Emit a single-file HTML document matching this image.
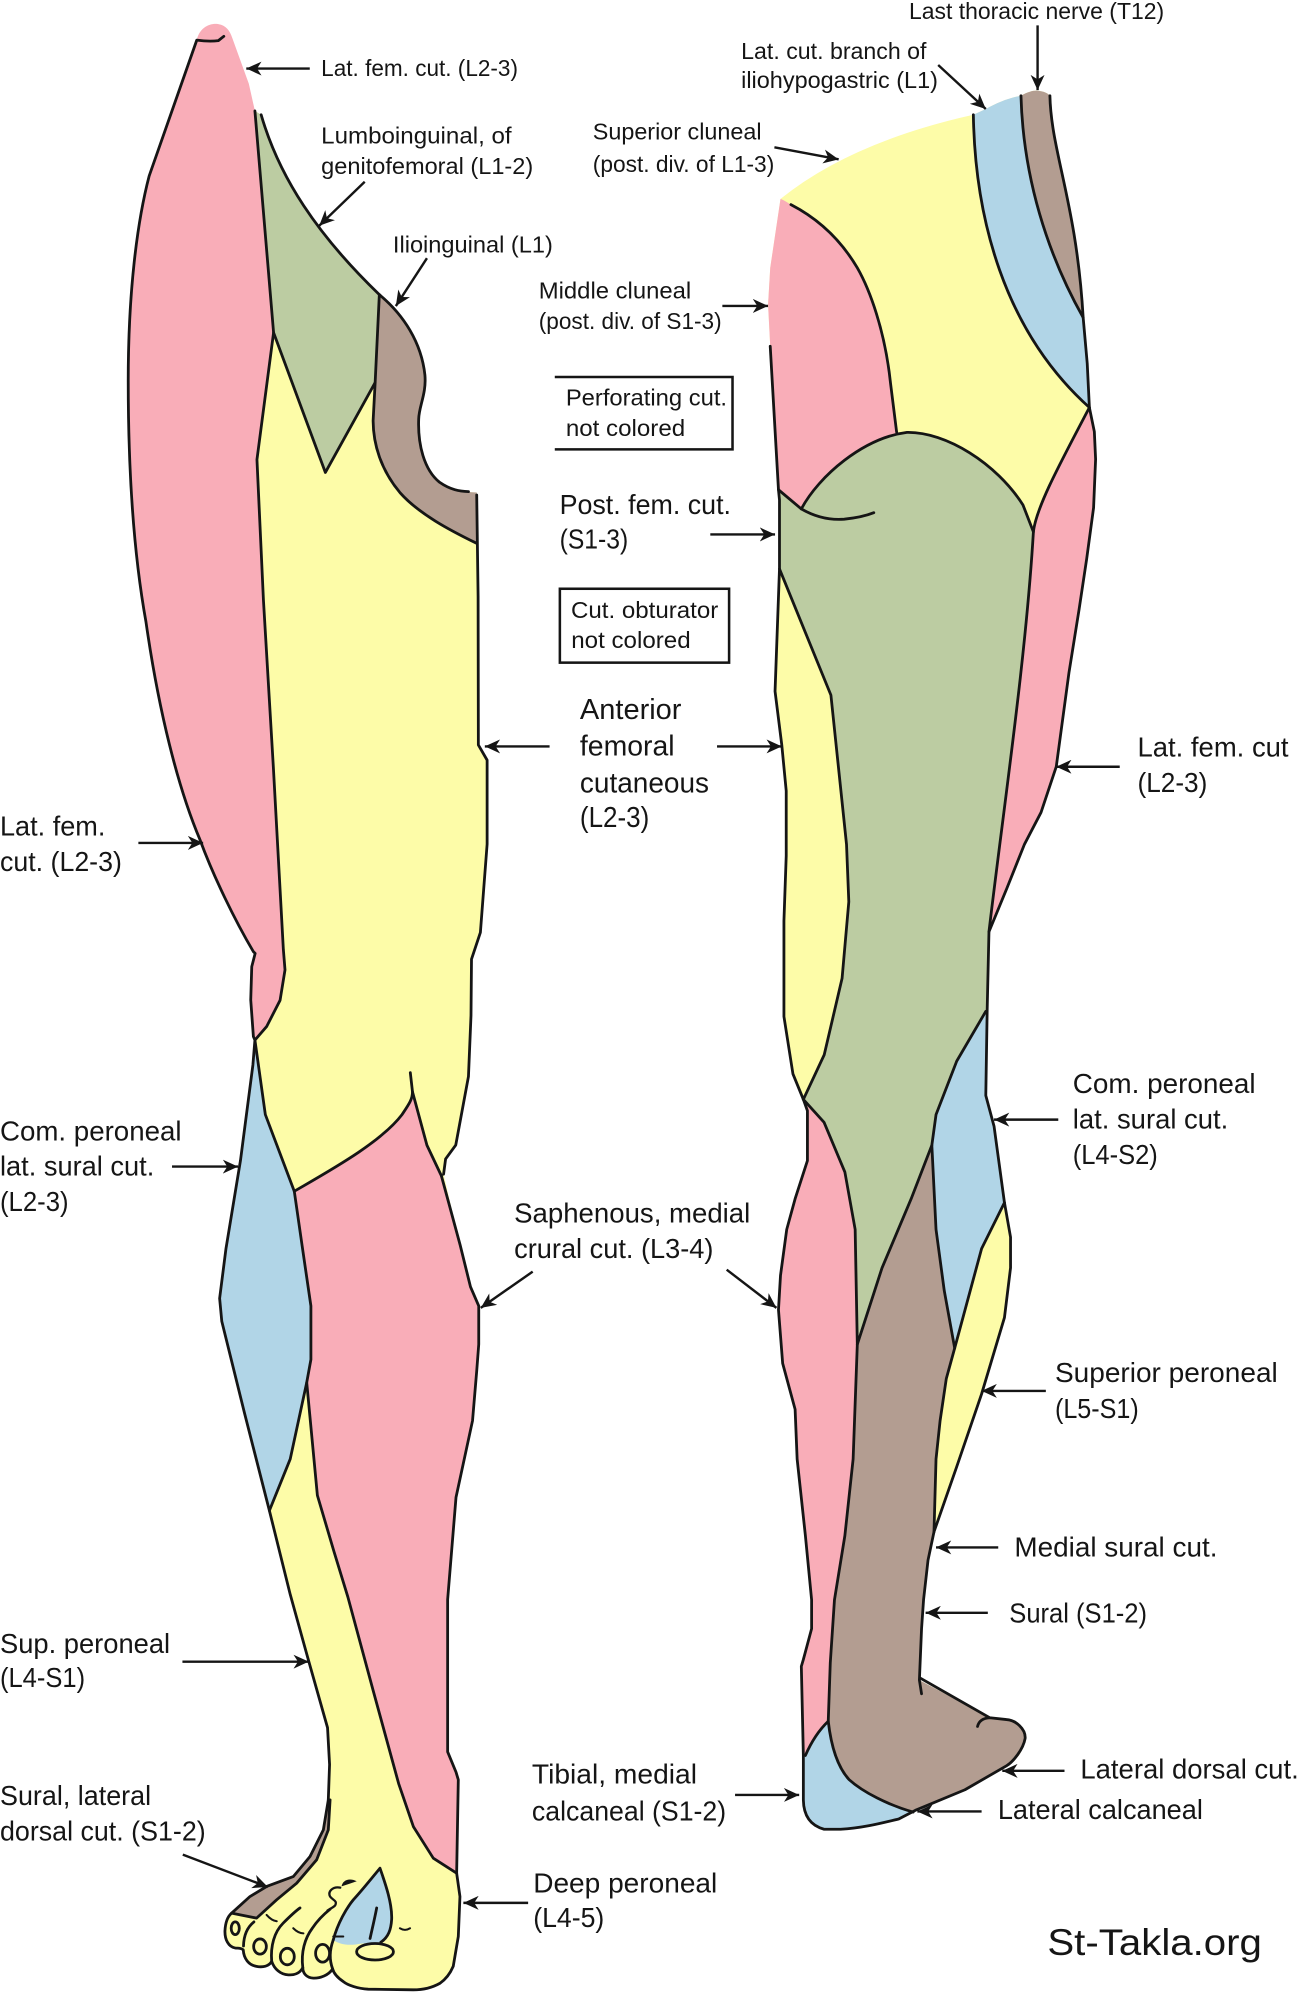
<!DOCTYPE html>
<html><head><meta charset="utf-8"><title>Dermatomes of the leg</title>
<style>
html,body{margin:0;padding:0;background:#fff;}
svg{display:block;}
text{font-family:"Liberation Sans",Arial,sans-serif;fill:#151515;}
</style></head>
<body>
<svg xmlns="http://www.w3.org/2000/svg" width="1300" height="1993" viewBox="0 0 1024 1570" preserveAspectRatio="none">
<defs>
<marker id="ah" markerUnits="userSpaceOnUse" markerWidth="13" markerHeight="11" refX="12" refY="5.5" orient="auto">
<path d="M0,0 L12,5.5 L0,11 L3.5,5.5 Z" fill="#151515"/>
</marker>
</defs>
<rect x="0" y="0" width="1024" height="1570" fill="#fff"/>

<!-- ================= LEFT LEG (anterior) ================= -->
<g stroke="none">
<path fill="#FDFCA8" d="M200.8,87.4 L205.7,90.4 C220,140 250,185 298.8,232.1 C318,248 332,270 334.7,295.4 C336,310 330,320 329.8,330 C329,350 334,370 346.1,379.8 C355,386 365,387.5 375.5,388 L376.6,470 L376.8,586.8 L383.7,598.8 L383.7,665 L378.4,734.5 L371.4,755.6 L371,800 L369,848 L359,902 L351,913 L349.4,925 L362.4,980.6 L370.6,1013.7 L377.1,1028.8 L377.1,1059 L375.5,1080 L372.2,1119.2 L359.2,1179.5 L352.6,1260 L352.6,1380 L359.2,1396 L361,1402 L359.7,1475.6 L362.3,1494 L361,1525.5 L357,1549 C354,1556 350,1560 346.6,1562.3 C340,1566 332,1567.5 325.6,1567.5 L290,1567 C282,1566.5 274,1564 270.4,1561 C266,1558 263,1555 262,1551 C259,1556 252,1558.5 246.8,1558.3 C241,1558 238.5,1554 238.5,1550 C236,1555 231,1556 227.1,1555.7 C221,1555.5 216,1551 214,1545 C212,1549 207,1550 202,1549 C196,1548 192,1543 191.6,1536 C189,1534 187,1535 185,1534.5 C180,1533.5 177,1528 177.2,1521 C177.5,1515 179,1510 182.4,1507.1 L196.9,1494 L210,1486.1 L231,1478.3 L244.2,1462.5 L254.7,1441.5 L258.6,1417.9 L259.6,1390 L258,1361 L243.2,1308.7 L228.6,1256 L212.2,1190 L192.6,1113.2 L174.7,1040.9 L173,1022.8 L178,983.6 L189.4,914.3 L199.2,839 L200.8,819.3 L210,808.7 L220.6,788 L224.5,764 L223.2,748 L215.3,604 L207.5,472.6 L202.4,362 L215.5,262 Z"/>
<path fill="#F9ADB8" d="M155,31.6 C157,22 165,18 172,19 C178,20 181,24 183,30 L196,66 L200.8,87.4 L215.5,262 L202.4,362 L207.5,472.6 L215.3,604 L223.2,748 L224.5,764 L220.6,788 L210,808.7 L200.8,819.3 L199.6,816.6 L197.5,787.7 L198.3,761.5 L201,751 L199.6,749.7 C185,725 168,690 157.6,661.7 C140,620 125,560 115,490 C106,440 101,380 101,300 C101,230 108,175 117.5,138.6 Z"/>
<path fill="#BCCCA2" d="M205.7,90.4 C220,140 250,185 298.8,232.1 L295.5,301.4 L256.3,372.2 L215.5,262 L200.8,87.4 Z"/>
<path fill="#B39D91" d="M298.8,232.1 C318,248 332,270 334.7,295.4 C336,310 330,320 329.8,330 C329,350 334,370 346.1,379.8 C355,386 365,387.5 375.5,388 L375.5,428 C355,418 330,405 315,388 C300,370 294,350 293.9,331.5 L295.5,301.4 Z"/>
<path fill="#B1D5E7" d="M200.8,819.3 L209,878 L231.8,938.4 L238.3,983.6 L244.9,1028.8 L244.9,1071 L241.6,1089.1 L228.6,1149.4 L212.2,1190 L192.6,1113.2 L174.7,1040.9 L173,1022.8 L178,983.6 L189.4,914.3 L199.2,839 Z"/>
<path fill="#F9ADB8" d="M231.8,938.4 C260,922 300,900 316.7,878 C322,870 325,866 324.9,860 L336.3,902.2 L347.7,926.3 L362.4,980.6 L370.6,1013.7 L377.1,1028.8 L377.1,1059 L375.5,1080 L372.2,1119.2 L359.2,1179.5 L352.6,1260 L352.6,1380 L359.2,1396 L361,1402 L359.7,1475.6 L341.3,1463.8 L325.6,1438.9 L314,1405 L293.9,1331.6 L274,1258 L263,1222 L250,1178 L241.6,1089.1 L244.9,1071 L244.9,1028.8 L238.3,983.6 Z"/>
<path fill="#B39D91" d="M258.6,1417.9 L260,1417.9 L258.6,1441.5 L249.4,1465.1 L233.7,1483.5 L217.9,1496.6 L202.1,1511 L182.4,1507.1 L196.9,1494 L210,1486.1 L231,1478.3 L244.2,1462.5 L254.7,1441.5 Z"/>
<path fill="#B1D5E7" d="M299.3,1471.7 C304,1485 309,1500 308.5,1512 C308,1520 306,1526 300,1530 L285,1531 C275,1533 268,1532 262.5,1528.2 C266,1515 273,1503 278.3,1496.6 C287,1487 294,1478 299.3,1471.7 Z"/>
</g>

<g fill="none" stroke="#151515" stroke-width="2.2" stroke-linejoin="round" stroke-linecap="round">
<path d="M182.4,1507.1 L196.9,1494 L210,1486.1 L231,1478.3 L244.2,1462.5 L254.7,1441.5 L258.6,1417.9 L259.6,1390 L258,1361 L243.2,1308.7 L228.6,1256 L212.2,1190 L192.6,1113.2 L174.7,1040.9 L173,1022.8 L178,983.6 L189.4,914.3 L199.2,839 L200.8,819.3 L199.6,816.6 L197.5,787.7 L198.3,761.5 L201,751 L199.6,749.7 C185,725 168,690 157.6,661.7 C140,620 125,560 115,490 C106,440 101,380 101,300 C101,230 108,175 117.5,138.6 L155,31.6 Q165,33 172,32 L176.3,28.6"/>
<path d="M205.7,90.4 C220,140 250,185 298.8,232.1 C318,248 332,270 334.7,295.4 C336,310 330,320 329.8,330 C329,350 334,370 346.1,379.8 C355,386 362,387 369,387.3"/>
<path d="M375.5,390 L376.6,470 L376.8,586.8 L383.7,598.8 L383.7,665 L378.4,734.5 L371.4,755.6 L371,800 L369,848 L359,902 L351,913 L349.4,925"/>
<path d="M347.7,926.3 L362.4,980.6 L370.6,1013.7 L377.1,1028.8 L377.1,1059 L375.5,1080 L372.2,1119.2 L359.2,1179.5 L352.6,1260 L352.6,1380 L359.2,1396 L361,1402 L359.7,1475.6 L362.3,1494 L361,1525.5 L357,1549 C354,1556 350,1560 346.6,1562.3 C340,1566 332,1567.5 325.6,1567.5 L290,1567 C282,1566.5 274,1564 270.4,1561 C266,1558 263,1555 262,1551 C259,1556 252,1558.5 246.8,1558.3 C241,1558 238.5,1554 238.5,1550 C236,1555 231,1556 227.1,1555.7 C221,1555.5 216,1551 214,1545 C212,1549 207,1550 202,1549 C196,1548 192,1543 191.6,1536 C189,1534 187,1535 185,1534.5 C180,1533.5 177,1528 177.2,1521 C177.5,1515 179,1510 182.4,1507.1"/>
<path d="M200.8,87.4 L215.5,262 L202.4,362 L207.5,472.6 L215.3,604 L223.2,748 L224.5,764 L220.6,788 L210,808.7 L200.8,819.3"/>
<path d="M215.5,262 L256.3,372.2 L295.5,301.4 L298.8,232.1"/>
<path d="M295.5,301.4 L293.9,331.5 C294,350 300,370 315,388 C330,405 355,418 375.5,428"/>
<path d="M200.8,819.3 L209,878 L231.8,938.4 C260,922 300,900 316.7,878 C322,870 325,866 324.9,860 L323.2,845"/>
<path d="M324.9,860 L336.3,902.2 L347.7,926.3"/>
<path d="M231.8,938.4 L238.3,983.6 L244.9,1028.8 L244.9,1071 L241.6,1089.1 L228.6,1149.4 L212.2,1190"/>
<path d="M241.6,1089.1 L250,1178 L263,1222 L274,1258 L293.9,1331.6 L314,1405 L325.6,1438.9 L341.3,1463.8 L359.7,1475.6"/>
<path d="M258.6,1417.9 L260,1417.9 L258.6,1441.5 L249.4,1465.1 L233.7,1483.5 L217.9,1496.6 L202.1,1511 L182.4,1507.1"/>
<path d="M191.8,1533 C192,1524 195,1518 200,1514"/>
<path d="M214,1545 C213,1533 216,1522 223,1515 C228,1510 232,1506 236.3,1503"/>
<path d="M238.5,1550 C237,1538 240,1527 246,1519 C250,1513 255,1508 260,1504"/>
<path d="M262,1551 C259,1543 260,1535 262.5,1528.2"/>
<path d="M299.3,1471.7 C304,1485 309,1500 308.5,1512 C308,1520 306,1526 300,1530 M262.5,1528.2 C266,1515 273,1503 278.3,1496.6 C287,1487 294,1478 299.3,1471.7"/>
<path d="M296.7,1503 C295,1512 293,1520 291.5,1527"/>
<ellipse cx="185.3" cy="1519" rx="3.2" ry="5" fill="#FDFCA8"/>
<ellipse cx="204.8" cy="1533.4" rx="5" ry="6" fill="#FDFCA8"/>
<ellipse cx="226.3" cy="1541.3" rx="5.5" ry="6.5" fill="#FDFCA8"/>
<ellipse cx="254.1" cy="1538.7" rx="5.5" ry="7" fill="#FDFCA8"/>
<ellipse cx="295.4" cy="1537.5" rx="14.5" ry="6.5" fill="#FDFCA8"/>
<path d="M210,1508.5 Q214,1513 218,1513.5" stroke-width="1.6"/>
<path d="M231,1519 Q235,1523 239,1523" stroke-width="1.6"/>
<path d="M315,1519 Q319,1521.5 323,1519" stroke-width="1.6"/>
<path d="M262.5,1525.5 L270.4,1525.5" stroke-width="1.6"/>
<path d="M268,1487 C262,1486 258,1490 260,1494 C262,1497 266,1497 264,1501 C262,1503 259,1504 258,1505" stroke-width="1.8"/>
</g>
<path d="M269,1486 C270,1481 275,1479 281,1482 L275,1484 Z" fill="#151515"/>

<!-- ================= RIGHT LEG (posterior) ================= -->
<g stroke="none">
<path fill="#FDFCA8" d="M614.8,156.7 Q670,112 766.7,90.4 L776.5,85.9 C785,81 795,77 804.2,75.4 C810,72 815,71 817.3,71.5 C822,72 825,73 827,75.4 C828,120 848,160 853.2,250.2 L856.4,286.3 L858.1,321 L862,340 L863,361.7 L861.4,400 L856,440 L850,480 L842,530 L832,604 L820,640 L807,665 L793,700 L779,734 L777.6,795 L776.5,863 L783,887.2 L791.2,947.4 L796,974.6 L796,998.7 L791.2,1037.9 L773.2,1098.1 L753.6,1155.4 L735.7,1206.7 L731,1229 L727.5,1260 L725.9,1283 L724.2,1323.5 L779.7,1353.2 C790,1354 800,1355 804,1361 C808,1366 808,1375 802.6,1382.9 C798,1388 795,1390 792.8,1391 L760.1,1409.9 L721,1426.1 L707.9,1432.9 C695,1436 680,1440 662.2,1441 L649.1,1441 C638,1438 633,1430 632.8,1418 L632.8,1382.9 L631.2,1312.7 L632.8,1307.3 L639.3,1283 L639.3,1260.3 L634.4,1209.7 L627.9,1149.4 L626.3,1110.2 L616.5,1074 L613.2,1031.8 L614.8,1004.7 L619.7,968.5 L626.3,944.4 L636,914.3 L636,875 L632.8,866.1 L624.6,846 L617.5,800.8 L617.5,725.4 L619.3,674.2 L619.3,623 L615.8,586.8 L610.5,544.6 L614,448.2 L614,393.9 L613.2,385.8 L606.7,272.8 L605,240 L606.7,211 Z"/>
<path fill="#F9ADB8" d="M614.8,156.7 C618,158 620,159.5 623,161.2 C640,170 660,185 675.3,211 C685,228 697,260 701.4,301.4 L706.3,340.6 L714.4,340.6 C680,345 645,375 631.2,400.9 L613.2,385.8 L606.7,272.8 L605,240 L606.7,211 Z"/>
<path fill="#B1D5E7" d="M766.7,90.4 L776.5,85.9 C785,81 795,77 804.2,75.4 C806,140 825,200 853.2,250.2 L856.4,286.3 L858.1,321 C790,260 768,170 766.7,90.4 Z"/>
<path fill="#B39D91" d="M804.2,75.4 C810,72 815,71 817.3,71.5 C822,72 825,73 827,75.4 C828,120 848,160 853.2,250.2 C825,200 806,140 804.2,75.4 Z"/>
<path fill="#F9ADB8" d="M858.1,321 L862,340 L863,361.7 L861.4,400 L856,440 L850,480 L842,530 L832,604 L820,640 L807,665 L793,700 L779,734 C790,640 808,520 814,419 C816,400 835,365 858.1,321 Z"/>
<path fill="#BCCCA2" d="M613.2,385.8 L631.2,400.9 C645,375 680,345 714.4,340.6 C745,340 785,365 805.8,397.8 L814,419 C808,520 790,640 779,734 L777.6,795 L776.5,796.7 L753.6,835.9 L737.3,878.1 L734,902.2 L717.7,944.4 L694.8,998.7 L675.3,1059 L673.6,968.5 L665.5,923.3 L649.1,884.1 L632.8,866.1 L649.2,831 L663.3,770.7 L668.6,710.4 L666.8,665.2 L654.5,547.6 L614,448.2 L614,393.9 Z"/>
<path fill="#B1D5E7" d="M776.5,796.7 L776.5,863 L783,887.2 L791.2,947.4 L773.2,983.6 L752,1062 L743.8,1016.8 L737.3,968.5 L734,902.2 L737.3,878.1 L753.6,835.9 Z"/>
<path fill="#B39D91" d="M675.3,1059 L694.8,998.7 L717.7,944.4 L734,902.2 L737.3,968.5 L743.8,1016.8 L752,1062 L745.4,1086 L740.5,1119.2 L737.3,1149.4 L735.7,1206.7 L731,1229 L727.5,1260 L725.9,1283 L724.2,1323.5 L779.7,1353.2 C790,1354 800,1355 804,1361 C808,1366 808,1375 802.6,1382.9 C798,1388 795,1390 792.8,1391 L760.1,1409.9 L721,1426.1 L719.3,1427.5 C700,1422 680,1412 668.7,1401.8 C658,1390 654,1370 652.4,1355.9 L654,1310 L657.3,1260.3 L665.5,1209.7 L672,1149.4 Z"/>
<path fill="#F9ADB8" d="M632.8,866.1 L636,875 L636,914.3 L626.3,944.4 L619.7,968.5 L614.8,1004.7 L613.2,1031.8 L616.5,1074 L626.3,1110.2 L627.9,1149.4 L634.4,1209.7 L639.3,1260.3 L639.3,1283 L632.8,1307.3 L631.2,1312.7 L632.8,1382.9 L634.4,1382.9 C640,1370 646,1362 652.4,1355.9 L654,1310 L657.3,1260.3 L665.5,1209.7 L672,1149.4 L675.3,1059 L673.6,968.5 L665.5,923.3 L649.1,884.1 Z"/>
<path fill="#B1D5E7" d="M634.4,1382.9 C640,1370 646,1362 652.4,1355.9 C654,1370 658,1390 668.7,1401.8 C680,1412 700,1422 719.3,1427.5 L707.9,1432.9 C695,1436 680,1440 662.2,1441 L649.1,1441 C638,1438 633,1430 632.8,1418 L632.8,1382.9 Z"/>
</g>

<g fill="none" stroke="#151515" stroke-width="2.2" stroke-linejoin="round" stroke-linecap="round">
<path d="M606.7,272.8 L613.2,385.8 L614,393.9 L614,448.2 L610.5,544.6 L615.8,586.8 L619.3,623 L619.3,674.2 L617.5,725.4 L617.5,800.8 L624.6,846 L632.8,866.1 L636,875 L636,914.3 L626.3,944.4 L619.7,968.5 L614.8,1004.7 L613.2,1031.8 L616.5,1074 L626.3,1110.2 L627.9,1149.4 L634.4,1209.7 L639.3,1260.3 L639.3,1283 L632.8,1307.3 L631.2,1312.7 L632.8,1382.9 L632.8,1418 C633,1430 638,1438 649.1,1441 L662.2,1441 C680,1440 695,1436 707.9,1432.9 L721,1426.1 L760.1,1409.9 L792.8,1391 C798,1388 806,1378 807.5,1369.4 C808,1362 800,1355 792.8,1354.6 L779.7,1353.2 L725,1322"/>
<path d="M827,75.4 C828,120 848,160 853.2,250.2 L856.4,286.3 L858.1,321 L862,340 L863,361.7 L861.4,400 L856,440 L850,480 L842,530 L832,604 L820,640 L807,665 L793,700 L779,734 L777.6,795 L776.5,863 L783,887.2 L791.2,947.4 L796,974.6 L796,998.7 L791.2,1037.9 L773.2,1098.1 L753.6,1155.4 L735.7,1206.7 L731,1229 L727.5,1260 L725.9,1283 L724.2,1323.5 L725.9,1334.3"/>
<path d="M804.2,75.4 C806,140 825,200 853.2,250.2"/>
<path d="M766.7,90.4 C768,170 790,260 858.1,321"/>
<path d="M858.1,321 C835,365 816,400 814,419 C808,520 790,640 779,734"/>
<path d="M623,161.2 C640,170 660,185 675.3,211 C685,228 697,260 701.4,301.4 L706.3,340.6"/>
<path d="M613.2,385.8 L631.2,400.9 C645,375 680,345 714.4,340.6 C745,340 785,365 805.8,397.8 L814,419"/>
<path d="M631.2,400.9 C640,406 652,410 665,409 C675,408 683,406 688.3,403.9"/>
<path d="M614,448.2 L654.5,547.6 L666.8,665.2 L668.6,710.4 L663.3,770.7 L649.2,831 L632.8,866.1"/>
<path d="M632.8,866.1 L649.1,884.1 L665.5,923.3 L673.6,968.5 L675.3,1059 L672,1149.4 L665.5,1209.7 L657.3,1260.3 L654,1310 L652.4,1355.9"/>
<path d="M776.5,796.7 L753.6,835.9 L737.3,878.1 L734,902.2 L717.7,944.4 L694.8,998.7 L675.3,1059"/>
<path d="M734,902.2 L737.3,968.5 L743.8,1016.8 L752,1062"/>
<path d="M791.2,947.4 L773.2,983.6 L752,1062 L745.4,1086 L740.5,1119.2 L737.3,1149.4 L735.7,1206.7"/>
<path d="M634.4,1382.9 C640,1370 646,1362 652.4,1355.9 C654,1370 658,1390 668.7,1401.8 C680,1412 700,1422 719.3,1427.5"/>
<path d="M770,1360 C771,1356 774,1353.5 779.7,1353.2"/>
</g>

<!-- ================= BOXES ================= -->
<g fill="none" stroke="#151515" stroke-width="2">
<path d="M437,297 L577,297 L577,354 L437,354"/>
<rect x="441" y="463.8" width="133.3" height="58.2"/>
</g>

<!-- ================= ARROWS ================= -->
<g stroke="#151515" stroke-width="1.9" fill="none" marker-end="url(#ah)">
<line x1="244" y1="54" x2="194" y2="54"/>
<line x1="287.3" y1="143.2" x2="251.4" y2="177.8"/>
<line x1="336.3" y1="203.4" x2="311.8" y2="241.1"/>
<line x1="817.3" y1="20" x2="817.3" y2="71"/>
<line x1="739" y1="51.2" x2="776.5" y2="85.9"/>
<line x1="610" y1="116" x2="660.6" y2="125.5"/>
<line x1="569" y1="241" x2="605" y2="241"/>
<line x1="559.5" y1="421" x2="610.5" y2="421"/>
<line x1="432.9" y1="588" x2="381.9" y2="588"/>
<line x1="564.8" y1="588" x2="615.8" y2="588"/>
<line x1="109" y1="664" x2="160" y2="664"/>
<line x1="882" y1="604" x2="832" y2="604"/>
<line x1="135.5" y1="919" x2="187.5" y2="919"/>
<line x1="833.6" y1="882" x2="783" y2="882"/>
<line x1="419.6" y1="1001.7" x2="378.7" y2="1030.3"/>
<line x1="572.4" y1="1000.2" x2="611.6" y2="1030.3"/>
<line x1="823.8" y1="1095.7" x2="773.2" y2="1095.7"/>
<line x1="786.3" y1="1219" x2="737.3" y2="1219"/>
<line x1="778.1" y1="1270.5" x2="729.1" y2="1270.5"/>
<line x1="838.5" y1="1395" x2="789.5" y2="1395"/>
<line x1="773.2" y1="1427" x2="722.6" y2="1427"/>
<line x1="579" y1="1414" x2="629.5" y2="1414"/>
<line x1="143.7" y1="1309" x2="243.2" y2="1309"/>
<line x1="144" y1="1461" x2="211" y2="1486.5"/>
<line x1="416" y1="1499" x2="365" y2="1499"/>
</g>

<!-- ================= LABELS ================= -->
<g font-size="18.5">
<text x="253" y="60" textLength="155" lengthAdjust="spacingAndGlyphs">Lat. fem. cut. (L2-3)</text>
<text x="253" y="113" textLength="150" lengthAdjust="spacingAndGlyphs">Lumboinguinal, of</text>
<text x="253" y="137" textLength="167" lengthAdjust="spacingAndGlyphs">genitofemoral (L1-2)</text>
<text x="309.5" y="199" textLength="126" lengthAdjust="spacingAndGlyphs">Ilioinguinal (L1)</text>
<text x="716" y="15" textLength="201" lengthAdjust="spacingAndGlyphs">Last thoracic nerve (T12)</text>
<text x="583.8" y="46.5" textLength="146" lengthAdjust="spacingAndGlyphs">Lat. cut. branch of</text>
<text x="583.8" y="69.5" textLength="155" lengthAdjust="spacingAndGlyphs">iliohypogastric (L1)</text>
<text x="466.9" y="110" textLength="133" lengthAdjust="spacingAndGlyphs">Superior cluneal</text>
<text x="466.9" y="135.5" textLength="143" lengthAdjust="spacingAndGlyphs">(post. div. of L1-3)</text>
<text x="424.4" y="235" textLength="120" lengthAdjust="spacingAndGlyphs">Middle cluneal</text>
<text x="424.4" y="259" textLength="144" lengthAdjust="spacingAndGlyphs">(post. div. of S1-3)</text>
<text x="445.7" y="319.5" textLength="127" lengthAdjust="spacingAndGlyphs">Perforating cut.</text>
<text x="445.7" y="343.5" textLength="94" lengthAdjust="spacingAndGlyphs">not colored</text>
<text x="449.8" y="487" textLength="116" lengthAdjust="spacingAndGlyphs">Cut. obturator</text>
<text x="450" y="510.5" textLength="94" lengthAdjust="spacingAndGlyphs">not colored</text>
</g>

<g font-size="21.5">
<text x="440.8" y="405" textLength="135" lengthAdjust="spacingAndGlyphs">Post. fem. cut.</text>
<text x="440.8" y="432" textLength="54" lengthAdjust="spacingAndGlyphs">(S1-3)</text>
<text x="0" y="658" textLength="83" lengthAdjust="spacingAndGlyphs">Lat. fem.</text>
<text x="0" y="686" textLength="96" lengthAdjust="spacingAndGlyphs">cut. (L2-3)</text>
<text x="896" y="596" textLength="119" lengthAdjust="spacingAndGlyphs">Lat. fem. cut</text>
<text x="896" y="624" textLength="55" lengthAdjust="spacingAndGlyphs">(L2-3)</text>
<text x="0" y="898.5" textLength="143" lengthAdjust="spacingAndGlyphs">Com. peroneal</text>
<text x="0" y="926" textLength="121.5" lengthAdjust="spacingAndGlyphs">lat. sural cut.</text>
<text x="0" y="954" textLength="54" lengthAdjust="spacingAndGlyphs">(L2-3)</text>
<text x="845" y="861" textLength="144" lengthAdjust="spacingAndGlyphs">Com. peroneal</text>
<text x="845" y="889" textLength="122.5" lengthAdjust="spacingAndGlyphs">lat. sural cut.</text>
<text x="845" y="917" textLength="67" lengthAdjust="spacingAndGlyphs">(L4-S2)</text>
<text x="405" y="963" textLength="186" lengthAdjust="spacingAndGlyphs">Saphenous, medial</text>
<text x="405" y="991" textLength="157" lengthAdjust="spacingAndGlyphs">crural cut. (L3-4)</text>
<text x="831" y="1088.5" textLength="175.5" lengthAdjust="spacingAndGlyphs">Superior peroneal</text>
<text x="831" y="1117" textLength="66" lengthAdjust="spacingAndGlyphs">(L5-S1)</text>
<text x="799" y="1226" textLength="160" lengthAdjust="spacingAndGlyphs">Medial sural cut.</text>
<text x="795" y="1278" textLength="108.5" lengthAdjust="spacingAndGlyphs">Sural (S1-2)</text>
<text x="851" y="1401" textLength="172" lengthAdjust="spacingAndGlyphs">Lateral dorsal cut.</text>
<text x="786" y="1433" textLength="161.5" lengthAdjust="spacingAndGlyphs">Lateral calcaneal</text>
<text x="419" y="1405" textLength="130" lengthAdjust="spacingAndGlyphs">Tibial, medial</text>
<text x="419" y="1434" textLength="153" lengthAdjust="spacingAndGlyphs">calcaneal (S1-2)</text>
<text x="0" y="1302" textLength="134" lengthAdjust="spacingAndGlyphs">Sup. peroneal</text>
<text x="0" y="1329" textLength="67" lengthAdjust="spacingAndGlyphs">(L4-S1)</text>
<text x="0" y="1422" textLength="119" lengthAdjust="spacingAndGlyphs">Sural, lateral</text>
<text x="0" y="1450" textLength="162" lengthAdjust="spacingAndGlyphs">dorsal cut. (S1-2)</text>
<text x="420" y="1491" textLength="145" lengthAdjust="spacingAndGlyphs">Deep peroneal</text>
<text x="420" y="1518" textLength="56" lengthAdjust="spacingAndGlyphs">(L4-5)</text>
</g>

<g font-size="22.5">
<text x="456.8" y="566.4" textLength="80" lengthAdjust="spacingAndGlyphs">Anterior</text>
<text x="456.8" y="595" textLength="74.6" lengthAdjust="spacingAndGlyphs">femoral</text>
<text x="456.8" y="624.2" textLength="101.7" lengthAdjust="spacingAndGlyphs">cutaneous</text>
<text x="456.8" y="651.3" textLength="54.6" lengthAdjust="spacingAndGlyphs">(L2-3)</text>
</g>

<text x="825" y="1540" font-size="29" textLength="169" lengthAdjust="spacingAndGlyphs">St-Takla.org</text>
</svg>
</body></html>
